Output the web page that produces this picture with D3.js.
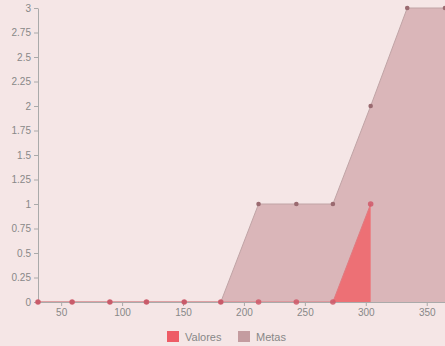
<!DOCTYPE html>
<html><head><meta charset="utf-8">
<script src="https://cdn.jsdelivr.net/npm/d3@7"></script>
<style>body{margin:0;background:#f5e6e6;}svg{display:block;}</style>
</head><body>
<script>
const days = [31, 59, 90, 120, 151, 181, 212, 243, 273, 304, 334, 365];
const valores = [0, 0, 0, 0, 0, 0, 0, 0, 0, 1, null, null];
const metas = [0, 0, 0, 0, 0, 0, 1, 1, 1, 2, 3, 3];
const yTicks = [0, 0.25, 0.5, 0.75, 1, 1.25, 1.5, 1.75, 2, 2.25, 2.5, 2.75, 3];
const xTicks = [50, 100, 150, 200, 250, 300, 350];
const seriesNames = ["Valores", "Metas"];

const W = 445, H = 346;
const m = {left: 38, right: 0, top: 8, bottom: 44};
const svg = d3.select("body").append("svg").attr("width", W).attr("height", H);
svg.append("rect").attr("width", W).attr("height", H).attr("fill", "#f5e6e6");

const x = d3.scaleLinear().domain([31, 365]).range([m.left, W - m.right]);
const y = d3.scaleLinear().domain([0, 3]).range([H - m.bottom, m.top]);

const colors = {Valores: "rgba(240,100,105,0.85)", Metas: "rgba(200,150,155,0.6)"};
const strokes = {Valores: "#e07a80", Metas: "#c0a4a6"};

function series(vals) {
  return days.map((d, i) => ({x: d, v: vals[i]})).filter(p => p.v !== null);
}
const area = d3.area().x(p => x(p.x)).y0(y(0)).y1(p => y(p.v));
const line = d3.line().x(p => x(p.x)).y(p => y(p.v));

const mData = series(metas), vData = series(valores);
svg.append("path").datum(mData).attr("d", area).attr("fill", colors.Metas);
svg.append("path").datum(mData).attr("d", line).attr("fill", "none").attr("stroke", strokes.Metas).attr("stroke-width", 1);
svg.append("path").datum(vData).attr("d", area).attr("fill", colors.Valores);
svg.append("path").datum(vData).attr("d", line).attr("fill", "none").attr("stroke", strokes.Valores).attr("stroke-width", 1);

// axes
const gx = svg.append("g").attr("transform", `translate(0,${y(0)})`)
  .call(d3.axisBottom(x).tickValues(xTicks).tickSize(4).tickSizeOuter(0));
const gy = svg.append("g").attr("transform", `translate(${m.left},0)`)
  .call(d3.axisLeft(y).tickValues(yTicks).tickSize(4).tickSizeOuter(0).tickFormat(d => d3.format("")(d)));
[gx, gy].forEach(g => {
  g.selectAll("path,line").attr("stroke", "#aaa");
  g.selectAll("text").attr("fill", "#888").style("font-family", "Liberation Sans, Arial, sans-serif").style("font-size", "10px");
});

// points
svg.append("g").selectAll("circle").data(mData).join("circle")
  .attr("cx", p => x(p.x)).attr("cy", p => y(p.v)).attr("r", 2.3).attr("fill", "#9a6a70");
svg.append("g").selectAll("circle").data(vData).join("circle")
  .attr("cx", p => x(p.x)).attr("cy", p => y(p.v)).attr("r", 2.8).attr("fill", "#d05868").attr("opacity", 0.85);

// legend
const lg = svg.append("g").attr("transform", "translate(167,331)");
const items = [{n: seriesNames[0], c: "#ee5c66", dx: 0}, {n: seriesNames[1], c: "#c49ca0", dx: 71}];
items.forEach(it => {
  const g = lg.append("g").attr("transform", `translate(${it.dx},0)`);
  g.append("rect").attr("width", 12).attr("height", 11).attr("fill", it.c);
  g.append("text").attr("x", 18).attr("y", 10).text(it.n).attr("fill", "#888")
    .style("font-family", "Liberation Sans, Arial, sans-serif").style("font-size", "11px");
});
</script>
</body></html>
